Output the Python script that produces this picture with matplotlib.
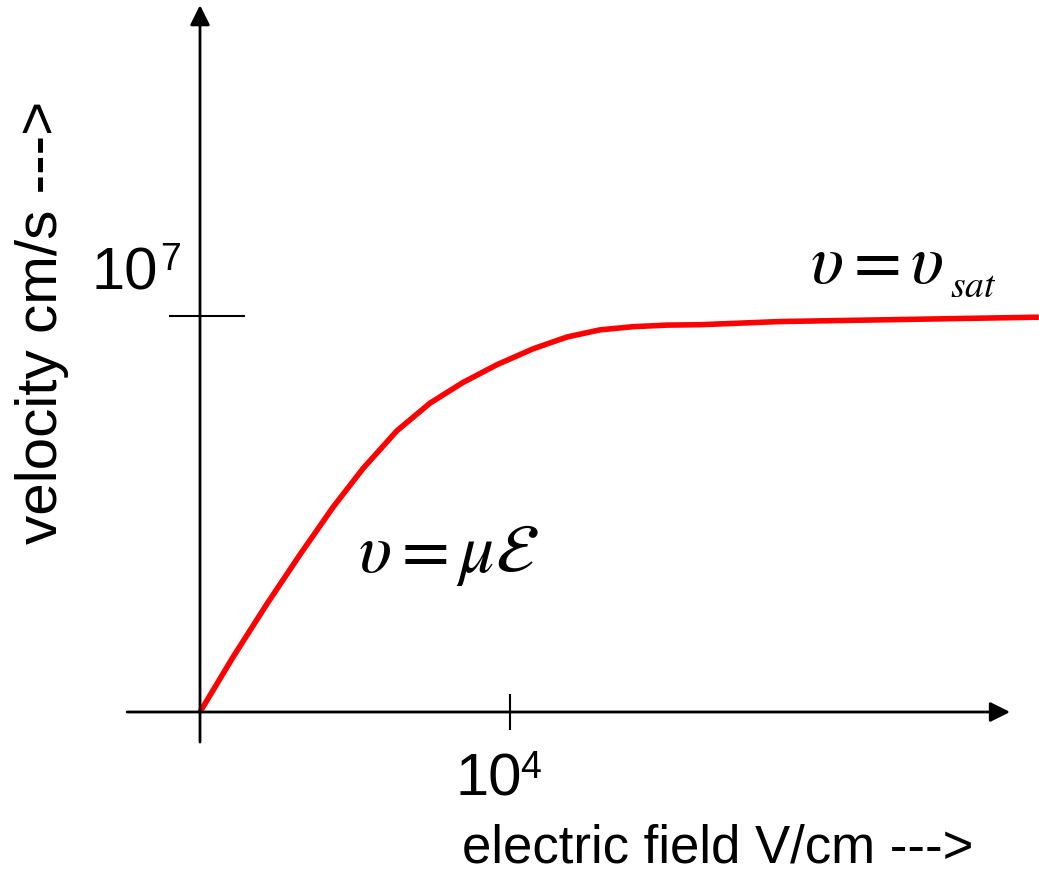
import numpy as np
import matplotlib
matplotlib.use("Agg")
import matplotlib.pyplot as plt

# field in units of 1e4 V/cm, velocity in units of 1e7 cm/s
field = [0.0, 0.106, 0.216, 0.323, 0.429, 0.526, 0.635, 0.742, 0.848, 0.958,
         1.074, 1.184, 1.290, 1.397, 1.506, 1.613, 1.871, 2.706]
velocity = [0.0, 0.138, 0.273, 0.398, 0.517, 0.615, 0.710, 0.780, 0.832, 0.877,
            0.917, 0.947, 0.965, 0.973, 0.977, 0.978, 0.986, 0.997]

x_tick_exp = "4"
y_tick_exp = "7"
x_label = "electric field V/cm --->"
y_label = "velocity cm/s --->"

plt.rcParams['font.family'] = ['Liberation Sans', 'DejaVu Sans']
plt.rcParams['mathtext.fontset'] = 'stix'

fig = plt.figure(figsize=(10.39, 8.72), dpi=100)
ax = fig.add_axes([0, 0, 1, 1])
ax.set_xlim(-200 / 310, 839 / 310)
ax.set_ylim(-160 / 396, 712 / 396)
ax.axis('off')

# axes with arrow heads
arrow = dict(arrowstyle='-|>,head_length=0.4,head_width=0.2', lw=2, color='black',
             mutation_scale=30, shrinkA=0, shrinkB=0)
ax.annotate('', xy=(0, 1.785), xytext=(0, -0.076), arrowprops=arrow)
ax.annotate('', xy=(2.613, 0), xytext=(-0.235, 0), arrowprops=arrow)

# ticks
ax.plot([-0.097, 0.142], [1.0, 1.0], color='black', lw=1.5)
ax.plot([1.0, 1.0], [-0.043, 0.043], color='black', lw=1.5)

# curve
ax.plot(field, velocity, color='#ff0000', lw=4, solid_capstyle='butt',
        solid_joinstyle='round')

# tick labels
ax.text(-0.349, 1.066, "10", fontsize=43, ha='left', va='baseline')
ax.text(-0.129, 1.187, y_tick_exp, fontsize=27, ha='left', va='top')
ax.text(0.823, -0.210, "10", fontsize=43, ha='left', va='baseline')
ax.text(1.032, -0.096, x_tick_exp, fontsize=27, ha='left', va='top')

# axis labels
ax.text(0.845, -0.380, x_label, fontsize=38, ha='left', va='baseline')
ax.text(-0.510, 0.985, y_label, fontsize=42, rotation=90, ha='center', va='center')

# formulas
ax.text(1.968, 1.083, r"$\upsilon = \upsilon$", fontsize=50, ha='left', va='baseline')
ax.text(2.419, 1.048, r"$sat$", fontsize=27, ha='left', va='baseline')
ax.text(0.510, 0.354, r"$\upsilon = \mu\mathcal{E}$", fontsize=50, ha='left', va='baseline')

fig.savefig("out.png", dpi=100)
